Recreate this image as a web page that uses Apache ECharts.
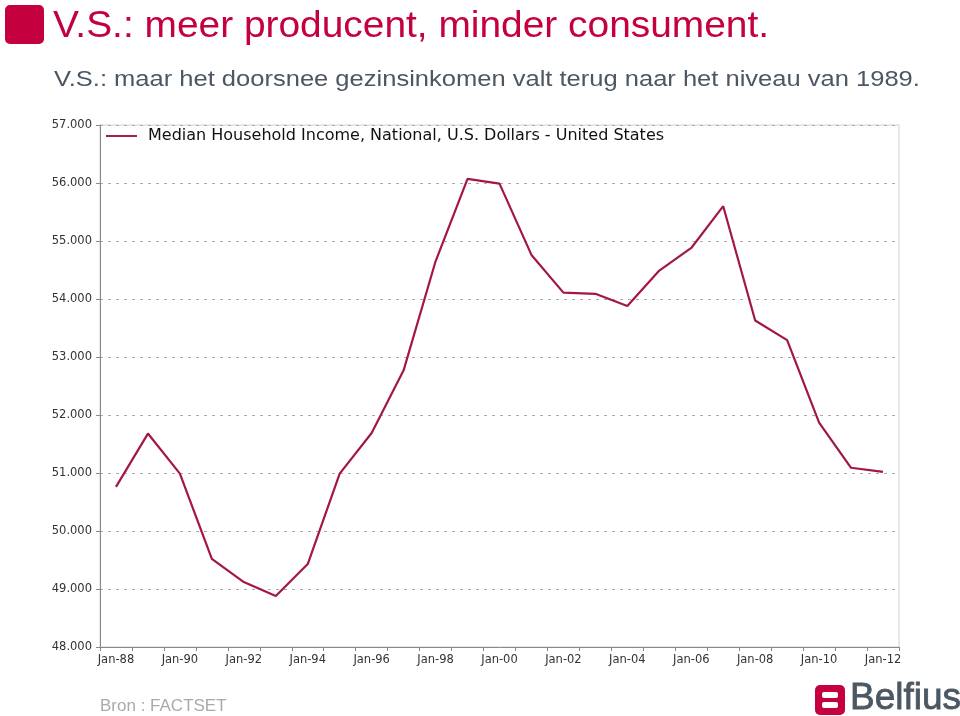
<!DOCTYPE html>
<html>
<head>
<meta charset="utf-8">
<script src="https://cdn.jsdelivr.net/npm/echarts@6/dist/echarts.min.js"></script>
<style>html,body{margin:0;padding:0;background:#fff}#c{width:960px;height:716px}</style>
</head>
<body>
<div id="c"></div>
<script>
const categories = ['Jan-88','Jan-89','Jan-90','Jan-91','Jan-92','Jan-93','Jan-94','Jan-95','Jan-96','Jan-97','Jan-98','Jan-99','Jan-00','Jan-01','Jan-02','Jan-03','Jan-04','Jan-05','Jan-06','Jan-07','Jan-08','Jan-09','Jan-10','Jan-11','Jan-12'];
const incomeValues = [50760,51680,50990,49520,49120,48880,49430,50990,51690,52770,54650,56070,55990,54760,54110,54090,53880,54490,54880,55600,53630,53290,51870,51090,51020];
const seriesName = 'Median Household Income, National, U.S. Dollars - United States';
const yTicks = {min: 48000, max: 57000, step: 1000};
const titleText = 'V.S.: meer producent, minder consument.';
const subtitleText = 'V.S.: maar het doorsnee gezinsinkomen valt terug naar het niveau van 1989.';
const sourceText = 'Bron : FACTSET';
const brandText = 'Belfius';

const chart = echarts.init(document.getElementById('c'), null, {renderer: 'canvas'});
const fmt = v => String(v).replace(/\B(?=(\d{3})+(?!\d))/g, '.');
chart.setOption({
  animation: false,
  backgroundColor: '#fff',
  grid: {left: 100, top: 125, right: 61, bottom: 69, show: true, borderColor: '#d0d0d0', borderWidth: 1, backgroundColor: 'transparent'},
  legend: {
    show: true, left: 101, top: 123, itemWidth: 31, itemHeight: 16, itemGap: 10,
    icon: 'path://M0,7L32,7L32,9L0,9Z',
    textStyle: {fontFamily: 'DejaVu Sans', fontSize: 16, color: '#111', padding: [0, 0, 0, 6]},
    data: [{name: seriesName, itemStyle: {color: '#a3164a'}}]
  },
  xAxis: {
    type: 'category', data: categories, boundaryGap: true,
    axisLine: {lineStyle: {color: '#888', width: 1}},
    axisTick: {show: true, interval: 0, length: 4, lineStyle: {color: '#888'}},
    axisLabel: {interval: 1, color: '#333', fontFamily: 'DejaVu Sans', fontSize: 11.5, margin: 7},
    splitLine: {show: false}
  },
  yAxis: {
    type: 'value', min: yTicks.min, max: yTicks.max, interval: yTicks.step,
    axisLine: {show: true, lineStyle: {color: '#888', width: 1}},
    axisTick: {show: true, length: 4, lineStyle: {color: '#888'}},
    axisLabel: {formatter: fmt, color: '#333', fontFamily: 'DejaVu Sans', fontSize: 11.5, margin: 8},
    splitLine: {show: true, lineStyle: {color: '#aaa', type: [3, 5], width: 1}}
  },
  series: [{
    name: seriesName, type: 'line', data: incomeValues, symbol: 'none',
    lineStyle: {color: '#a3164a', width: 2.2}, itemStyle: {color: '#a3164a'}
  }],
  graphic: [
    {type: 'rect', left: 5, top: 5, shape: {width: 39, height: 39, r: 5}, style: {fill: '#c4003f'}},
    {type: 'text', x: 53, y: 9, scaleX: 1.08, style: {text: titleText, font: '36px "Liberation Sans", Arial, sans-serif', fill: '#c4003f'}},
    {type: 'text', x: 54, y: 69, scaleX: 1.16, style: {text: subtitleText, font: '22px "Liberation Sans", Arial, sans-serif', fill: '#4b5763'}},
    {type: 'text', left: 100, top: 698, style: {text: sourceText, font: '17px "Liberation Sans", Arial, sans-serif', fill: '#aaaaaa'}},
    {type: 'rect', left: 815, top: 685, shape: {width: 30, height: 30, r: 5}, style: {fill: '#c4003f'}},
    {type: 'rect', left: 822, top: 692, shape: {width: 16, height: 6, r: 2}, style: {fill: '#fff'}},
    {type: 'rect', left: 822, top: 702, shape: {width: 16, height: 6, r: 2}, style: {fill: '#fff'}},
    {type: 'text', x: 850, y: 680, style: {text: brandText, font: '37px "Liberation Sans", Arial, sans-serif', fill: '#4b5763', stroke: '#4b5763', lineWidth: 0.8}}
  ]
});
</script>
</body>
</html>
